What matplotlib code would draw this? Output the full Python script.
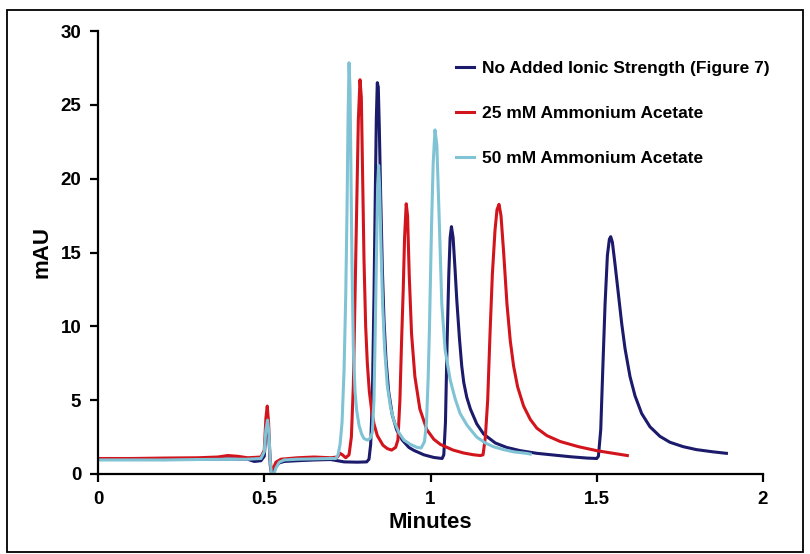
import matplotlib
matplotlib.use("Agg")
import matplotlib.pyplot as plt
from matplotlib.patches import Rectangle

plt.rcParams['font.family'] = ['Liberation Sans', 'DejaVu Sans']

# ---- data ----
navy_t = [0.00, 0.10, 0.20, 0.30, 0.40, 0.45, 0.47, 0.49, 0.50, 0.505, 0.51, 0.514, 0.518, 0.522,
          0.528, 0.535, 0.545, 0.56, 0.60, 0.65, 0.70, 0.72, 0.74, 0.78, 0.808, 0.815, 0.82, 0.825,
          0.830, 0.834, 0.837, 0.840, 0.843, 0.846, 0.850, 0.855, 0.860, 0.866, 0.874, 0.885, 0.898,
          0.915, 0.935, 0.95, 0.98, 1.01, 1.035, 1.040, 1.045, 1.050, 1.055, 1.059, 1.063, 1.068,
          1.074, 1.079, 1.087, 1.094, 1.100, 1.109, 1.120, 1.139, 1.16, 1.195, 1.229, 1.27, 1.32, 1.42,
          1.47, 1.50, 1.505, 1.512, 1.518, 1.525, 1.532, 1.538, 1.542, 1.547, 1.555, 1.565, 1.575,
          1.585, 1.60, 1.615, 1.635, 1.66, 1.69, 1.72, 1.76, 1.80, 1.85, 1.89]
navy_v = [1.00, 1.00, 0.98, 1.00, 1.02, 1.00, 0.85, 0.90, 1.2, 2.8, 3.5, 2.5, 0.6, 0.0,
          0.1, 0.5, 0.75, 0.85, 0.90, 0.95, 0.98, 0.90, 0.82, 0.80, 0.82, 1.0, 2.0, 5.0,
          12.0, 19.0, 24.0, 26.5, 26.2, 23.5, 19.0, 14.0, 10.5, 7.8, 5.6, 4.0, 3.0,
          2.3, 1.8, 1.6, 1.3, 1.12, 1.05, 1.3, 3.5, 9.0, 13.5, 16.0, 16.75, 16.0,
          13.8, 11.8, 9.2, 7.3, 6.2, 5.2, 4.4, 3.4, 2.7, 2.1, 1.8, 1.58, 1.4, 1.17,
          1.08, 1.05, 1.2, 3.0, 7.0, 11.5, 14.8, 15.9, 16.07, 15.7, 14.2, 12.2, 10.2,
          8.5, 6.6, 5.3, 4.1, 3.2, 2.55, 2.15, 1.85, 1.65, 1.5, 1.4]

red_t = [0.00, 0.10, 0.20, 0.30, 0.36, 0.39, 0.42, 0.45, 0.49, 0.50, 0.505, 0.509, 0.513, 0.517,
         0.521, 0.527, 0.535, 0.55, 0.60, 0.65, 0.70, 0.72, 0.728, 0.735, 0.745, 0.755, 0.762,
         0.768, 0.773, 0.778, 0.783, 0.788, 0.792, 0.796, 0.800, 0.805, 0.810, 0.816, 0.823,
         0.83, 0.84, 0.857, 0.87, 0.883, 0.895, 0.902, 0.908, 0.913, 0.918, 0.922, 0.927, 0.931,
         0.936, 0.943, 0.953, 0.968, 0.989, 1.01, 1.03, 1.068, 1.10, 1.13, 1.15, 1.158, 1.165,
         1.172, 1.179, 1.186, 1.194, 1.200, 1.206, 1.212, 1.22, 1.23, 1.24, 1.25, 1.262, 1.28,
         1.30, 1.32, 1.35, 1.39, 1.445, 1.50, 1.55, 1.592]
red_v = [1.05, 1.05, 1.08, 1.10, 1.15, 1.25, 1.20, 1.10, 1.15, 1.6, 3.8, 4.6, 3.5, 1.2,
         0.3, 0.35, 0.8, 1.0, 1.1, 1.15, 1.1, 1.15, 1.4, 1.3, 1.1, 1.3, 2.5,
         6.0, 12.0, 18.0, 24.0, 26.7, 25.5, 20.0, 14.5, 10.0, 7.5, 5.6, 4.3,
         3.4, 2.6, 1.95, 1.72, 1.62, 1.8, 2.3, 5.0, 9.0, 12.5, 16.0, 18.3, 17.5,
         13.5, 9.5, 6.6, 4.4, 3.0, 2.35, 2.0, 1.62, 1.42, 1.3, 1.25, 1.3, 2.5,
         5.0, 9.5, 13.5, 16.5, 17.9, 18.26, 17.5, 15.0, 11.5, 9.0, 7.3, 5.9, 4.6,
         3.7, 3.1, 2.6, 2.2, 1.85, 1.58, 1.4, 1.25]

cyan_t = [0.00, 0.10, 0.20, 0.30, 0.40, 0.45, 0.49, 0.50, 0.505, 0.51, 0.514, 0.518, 0.522,
          0.528, 0.535, 0.545, 0.56, 0.60, 0.70, 0.715, 0.722, 0.728, 0.734, 0.74, 0.745, 0.749,
          0.752, 0.755, 0.758, 0.761, 0.764, 0.768, 0.773, 0.778, 0.785, 0.793, 0.80, 0.81,
          0.818, 0.825, 0.830, 0.834, 0.838, 0.841, 0.844, 0.847, 0.851, 0.856, 0.862, 0.870,
          0.88, 0.89, 0.905, 0.92, 0.94, 0.96, 0.972, 0.982, 0.988, 0.993, 0.997, 1.003, 1.008,
          1.0135, 1.019, 1.027, 1.034, 1.044, 1.059, 1.074, 1.089, 1.11, 1.139, 1.165, 1.189,
          1.22, 1.25, 1.289, 1.30]
cyan_v = [0.95, 0.95, 0.95, 0.98, 1.00, 1.00, 1.05, 1.5, 3.0, 3.65, 2.8, 0.9, -0.05,
          -0.05, 0.4, 0.8, 0.95, 1.0, 1.05, 1.05, 1.3, 2.0, 3.5, 7.0, 12.0, 18.0,
          24.0, 27.85, 26.0, 20.0, 14.0, 8.5, 5.6, 4.3, 3.3, 2.7, 2.4, 2.3,
          2.4, 2.8, 5.0, 10.0, 15.5, 19.5, 20.9, 19.5, 15.5, 11.5, 8.5, 6.0,
          4.5, 3.6, 2.8, 2.3, 2.0, 1.8, 1.76, 2.2, 3.5, 6.5, 10.0, 16.7, 21.0,
          23.3, 22.3, 16.7, 11.5, 8.4, 6.4, 5.1, 4.1, 3.3, 2.5, 2.1, 1.85,
          1.65, 1.5, 1.4, 1.35]

labels = ["No Added Ionic Strength (Figure 7)", "25 mM Ammonium Acetate", "50 mM Ammonium Acetate"]
x_ticks = [0, 0.5, 1, 1.5, 2]
x_ticklabels = ["0", "0.5", "1", "1.5", "2"]
y_ticks = [0, 5, 10, 15, 20, 25, 30]

colors = ["#1b1a6b", "#d2141c", "#7fc3d5"]

W, H = 810, 554
fig = plt.figure(figsize=(W / 100, H / 100), dpi=100)
ax = fig.add_axes([98 / W, 1 - 474 / H, (763 - 98) / W, (474 - 31) / H])

ax.plot(navy_t, navy_v, color=colors[0], lw=2.2, label=labels[0], solid_joinstyle='round')
ax.plot(red_t, red_v, color=colors[1], lw=2.2, label=labels[1], solid_joinstyle='round')
ax.plot(cyan_t, cyan_v, color=colors[2], lw=2.2, label=labels[2], solid_joinstyle='round')

ax.set_xlim(0, 2)
ax.set_ylim(0, 30)
ax.set_xticks(x_ticks)
ax.set_xticklabels(x_ticklabels)
ax.set_yticks(y_ticks)
for s in ['top', 'right']:
    ax.spines[s].set_visible(False)
for s in ['left', 'bottom']:
    ax.spines[s].set_linewidth(1.6)
ax.tick_params(direction='out', length=6, width=1.6, labelsize=13.5, pad=6)
for lab in ax.get_xticklabels() + ax.get_yticklabels():
    lab.set_fontweight('bold')

ax.set_xlabel("Minutes", fontsize=16, fontweight='bold', labelpad=3)
ax.set_ylabel("mAU", fontsize=16, fontweight='bold', labelpad=6)

leg = ax.legend(loc='upper left', bbox_to_anchor=(456 / W, 1 - 61 / H),
                bbox_transform=fig.transFigure, frameon=False,
                prop={'weight': 'bold', 'size': 12.5}, handlelength=1.05,
                handletextpad=0.45, labelspacing=1.72, borderpad=0, borderaxespad=0)

fig.patches.append(Rectangle((7 / W, 1 - 552 / H), (803 - 7) / W, (552 - 10) / H,
                             transform=fig.transFigure, fill=False, edgecolor='black',
                             lw=1.3, zorder=10))

fig.savefig("out.png", dpi=100)
